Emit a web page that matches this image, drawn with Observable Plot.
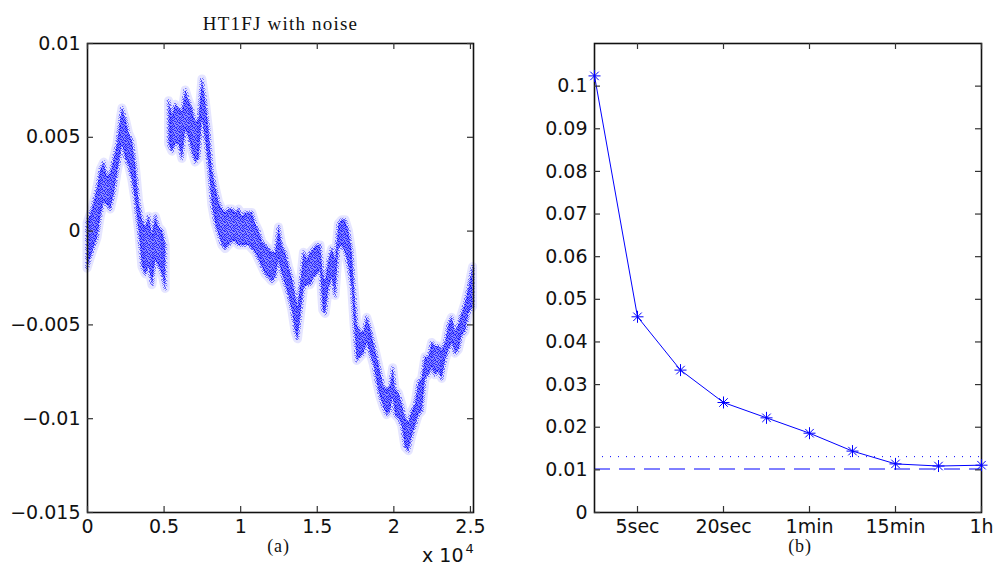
<!DOCTYPE html>
<html><head><meta charset="utf-8">
<script src="https://cdn.jsdelivr.net/npm/d3@7"></script>
<script src="https://cdn.jsdelivr.net/npm/@observablehq/plot@0.6"></script>
<style>
html,body{margin:0;padding:0;background:#fff;}
#wrap{position:relative;width:994px;height:566px;overflow:hidden;background:#fff;}
#left{position:absolute;left:0;top:0;}
#right{position:absolute;left:490px;top:0;}
</style></head><body>
<div id="wrap"><div id="left"></div><div id="right"></div></div>
<script>
// ---------- Panel (a): HT1FJ with noise (band of the noisy cloud)
const bandX = [0,326,652,870,1087,1304,1522,1739,1957,2174,2283,2500,2717,2935,3152,3370,3587,3804,4022,4239,4457,4674,4891,5109,
  5217,
  5326,5543,5761,5978,6196,6413,6630,6848,7065,7283,7500,7717,7935,8152,8370,8587,8804,9022,9239,9457,9674,9891,10109,10326,10543,10761,10978,11196,11413,11630,11848,12065,12283,12500,12717,12935,13152,13370,13587,13739,13913,14130,14348,14565,14783,15000,15217,15391,15543,15761,15978,16196,16413,16630,16848,17065,17283,17435,17609,17826,18043,18261,18478,18696,18913,19130,19348,19565,19783,19957,20109,20326,20543,20761,20978,21196,21413,21630,21848,22065,22283,22500,22717,22935,23152,23370,23587,23804,24022,24239,24457,24674,24891,25174];
const bandTop = [0.0004,0.00115,0.00231,0.00327,0.00365,0.00288,0.00308,0.00385,0.00462,0.00596,0.00654,0.00596,0.00519,0.00481,0.00346,0.00154,0.00058,0.00019,0.00077,-0.00019,0.00077,0.00019,0,-0.00077,
  null,
  0.00692,0.00615,0.00673,0.00654,0.00635,0.0075,0.00692,0.00654,0.00577,0.00596,0.00808,0.00692,0.00538,0.00327,0.00231,0.00154,0.00115,0.00096,0.00115,0.00115,0.00096,0.00115,0.00077,0.00096,0.00096,0.00096,0.00038,0,-0.00058,-0.00077,-0.00096,-0.00115,-0.00115,0.00019,-0.00077,-0.00115,-0.00192,-0.0025,-0.00346,-0.00404,-0.00288,-0.00115,-0.00154,-0.00115,-0.00096,-0.00077,-0.00077,-0.00231,-0.00269,-0.00154,-0.00096,-0.00154,0.00038,0.00058,0.00058,0,-0.00115,-0.00308,-0.005,-0.00538,-0.00538,-0.00462,-0.00519,-0.00596,-0.00673,-0.0075,-0.00827,-0.00846,-0.00827,-0.00731,-0.00846,-0.00865,-0.00923,-0.01,-0.01019,-0.00962,-0.00923,-0.00808,-0.00788,-0.00673,-0.00673,-0.00596,-0.00615,-0.00615,-0.00635,-0.00596,-0.005,-0.00462,-0.00538,-0.005,-0.00442,-0.00385,-0.00308,-0.00192];
const bandBottom = [-0.002,-0.00115,-0.00038,0.00077,0.00154,0.00135,0.00115,0.00192,0.00308,0.00404,0.00462,0.00385,0.00346,0.00269,0.00154,0,-0.00192,-0.00231,-0.00192,-0.00288,-0.00154,-0.00192,-0.00231,-0.00308,
  null,
  0.00462,0.00423,0.00462,0.00462,0.00385,0.00538,0.005,0.00423,0.00365,0.00385,0.00596,0.00481,0.00346,0.00135,0.00038,-0.00019,-0.00077,-0.00096,-0.00077,-0.00058,-0.00058,-0.00077,-0.00077,-0.00077,-0.00077,-0.00096,-0.00115,-0.00154,-0.00192,-0.00231,-0.0025,-0.00269,-0.0025,-0.00154,-0.00231,-0.00288,-0.00346,-0.00423,-0.00538,-0.00577,-0.00462,-0.00308,-0.00288,-0.00288,-0.0025,-0.00231,-0.00212,-0.00423,-0.00442,-0.00308,-0.0025,-0.00346,-0.00096,-0.00077,-0.00115,-0.00192,-0.00308,-0.005,-0.00692,-0.00673,-0.00654,-0.00596,-0.00654,-0.00712,-0.00808,-0.00885,-0.00942,-0.00981,-0.00962,-0.00885,-0.00981,-0.01,-0.01038,-0.01154,-0.01173,-0.01096,-0.01038,-0.00981,-0.00962,-0.00788,-0.00769,-0.00731,-0.00769,-0.0075,-0.00788,-0.00692,-0.00635,-0.00596,-0.00654,-0.00635,-0.00558,-0.00538,-0.00442,-0.00404];
const aTitle = "HT1FJ with noise";
const aXTicks = [0,5000,10000,15000,20000,25000];
const aXTickLabels = ["0","0.5","1","1.5","2","2.5"];
const aYTicks = [-0.015,-0.01,-0.005,0,0.005,0.01];
const aYTickLabels = ["\u22120.015","\u22120.01","\u22120.005","0","0.005","0.01"];

// ---------- Panel (b)
const bIndex = [0,1,2,3,4,5,6,7,8,9];
const bValues = [0.1024,0.0459,0.0334,0.0258,0.0222,0.0186,0.0144,0.0114,0.0109,0.0111];
const bDotted = [0.0131];
const bDashed = [0.0102];
const bXTicks = [1,3,5,7,9];
const bXTickLabels = ["5sec","20sec","1min","15min","1h"];
const bYTicks = [0,0.01,0.02,0.03,0.04,0.05,0.06,0.07,0.08,0.09,0.1];
const bYTickLabels = ["0","0.01","0.02","0.03","0.04","0.05","0.06","0.07","0.08","0.09","0.1"];

const BLUE = "#0000ff";
const STIPPLE_KEY = "#0000fe";
const SANS = "DejaVu Sans";
const SERIF = "Liberation Serif";
const FS = 19;
const TICK = "#333";

// build band rows, split at the null break
const bandRows = bandX.map((x, i) => ({x, top: bandTop[i], bottom: bandBottom[i]}));
const segments = [];
let cur = [];
for (const r of bandRows) {
  if (r.top == null) { if (cur.length) segments.push(cur); cur = []; }
  else cur.push(r);
}
if (cur.length) segments.push(cur);

// Left panel geometry
const aW = 490, aH = 566, aML = 87, aMR = 17, aMT = 43, aMB = 54;
const aFW = aW - aML - aMR, aFH = aH - aMT - aMB;

const bandMarks = segments.flatMap(seg => [
  Plot.areaY(seg, {x: "x", y1: "bottom", y2: "top", fill: "none", stroke: BLUE, strokeOpacity: 0.1, strokeWidth: 9, strokeLinejoin: "round", curve: "linear"}),
  Plot.areaY(seg, {x: "x", y1: "bottom", y2: "top", fill: "none", stroke: STIPPLE_KEY, strokeOpacity: 0.5, strokeWidth: 4, strokeLinejoin: "round", curve: "linear"}),
  Plot.areaY(seg, {x: "x", y1: "bottom", y2: "top", fill: BLUE, fillOpacity: 0.45, curve: "linear"}),
  Plot.areaY(seg, {x: "x", y1: "bottom", y2: "top", fill: STIPPLE_KEY, fillOpacity: 0.7, curve: "linear"})
]);

const left = Plot.plot({
  width: aW, height: aH,
  marginLeft: aML, marginRight: aMR, marginTop: aMT, marginBottom: aMB,
  style: `font-family: '${SANS}'; font-size: ${FS}px; background: white; overflow: visible;`,
  x: {domain: [0, 25200]},
  y: {domain: [-0.015, 0.01]},
  marks: [
    ...bandMarks,
    Plot.frame({stroke: "#111", strokeWidth: 1.6}),
    Plot.tickY(aYTicks, {y: d => d, insetRight: aFW - 6, stroke: TICK, strokeWidth: 1.2}),
    Plot.tickY(aYTicks, {y: d => d, insetLeft: aFW - 6, stroke: TICK, strokeWidth: 1.2}),
    Plot.tickX(aXTicks, {x: d => d, insetTop: aFH - 6, stroke: TICK, strokeWidth: 1.2}),
    Plot.tickX(aXTicks, {x: d => d, insetBottom: aFH - 6, stroke: TICK, strokeWidth: 1.2}),
    Plot.axisY({ticks: aYTicks, tickSize: 0, tickPadding: 7, tickFormat: (d, i) => aYTickLabels[i], label: null, fontSize: FS, fontFamily: SANS, fill: "#111"}),
    Plot.axisX({ticks: aXTicks, tickSize: 0, tickPadding: 7, tickFormat: (d, i) => aXTickLabels[i], label: null, fontSize: FS, fontFamily: SANS, fill: "#111"}),
    Plot.text([aTitle], {text: d => d, frameAnchor: "top", dy: -20, lineAnchor: "middle", fontFamily: SERIF, fontSize: 19, fill: "#111"}),
    Plot.text(["(a)"], {text: d => d, frameAnchor: "bottom", dx: -2, dy: 34, lineAnchor: "middle", fontFamily: SERIF, fontSize: 18, fill: "#111"}),
    Plot.text(["x 10"], {text: d => d, frameAnchor: "bottom-right", dx: -10, dy: 43, textAnchor: "end", lineAnchor: "middle", fontFamily: SANS, fontSize: FS, fill: "#111"}),
    Plot.text(["4"], {text: d => d, frameAnchor: "bottom-right", dx: -8, dy: 36, textAnchor: "start", lineAnchor: "middle", fontFamily: SANS, fontSize: 13, fill: "#111"})
  ]
});

// speckled texture for the noisy cloud (irregular 9x9 pixel tile)
const NS = "http://www.w3.org/2000/svg";
const defs = document.createElementNS(NS, "defs");
const pat = document.createElementNS(NS, "pattern");
pat.setAttribute("id", "stipple");
pat.setAttribute("patternUnits", "userSpaceOnUse");
pat.setAttribute("width", 9);
pat.setAttribute("height", 9);
const tileRows = [
  "x.xx..x.x",
  ".x..xx..x",
  "x..x.x.x.",
  ".xx...x.x",
  "x..xx.x..",
  ".x...x.xx",
  "x.x.x...x",
  "..x..xx..",
  ".x.x...x."
];
const pp = document.createElementNS(NS, "path");
let d = "";
tileRows.forEach((row, py) => [...row].forEach((c, px) => { if (c === "x") d += `M${px},${py}h1v1h-1z`; }));
pp.setAttribute("d", d);
pp.setAttribute("fill", BLUE);
pat.appendChild(pp);
defs.appendChild(pat);
left.insertBefore(defs, left.firstChild);
left.querySelectorAll(`[fill="${STIPPLE_KEY}"]`).forEach(el => el.setAttribute("fill", "url(#stipple)"));
left.querySelectorAll(`[stroke="${STIPPLE_KEY}"]`).forEach(el => el.setAttribute("stroke", "url(#stipple)"));
left.querySelectorAll("text").forEach(t => {
  if (t.textContent === aTitle) t.style.letterSpacing = "1.2px";
  if (t.textContent === "(a)") t.style.letterSpacing = "0.8px";
});
document.getElementById("left").append(left);

// Right panel geometry
const bW = 504, bH = 566, bML = 104, bMR = 13, bMT = 43, bMB = 54;
const bFW = bW - bML - bMR, bFH = bH - bMT - bMB;

const asterisk = {
  draw(ctx, size) {
    const r = Math.sqrt(size / Math.PI);
    const q = r * Math.SQRT1_2;
    ctx.moveTo(-r, 0); ctx.lineTo(r, 0);
    ctx.moveTo(0, -r); ctx.lineTo(0, r);
    ctx.moveTo(-q, -q); ctx.lineTo(q, q);
    ctx.moveTo(-q, q); ctx.lineTo(q, -q);
  }
};

const bRows = bIndex.map((x, i) => ({x, y: bValues[i]}));

const right = Plot.plot({
  width: bW, height: bH,
  marginLeft: bML, marginRight: bMR, marginTop: bMT, marginBottom: bMB,
  style: `font-family: '${SANS}'; font-size: ${FS}px; background: white; overflow: visible;`,
  x: {domain: [0, 9]},
  y: {domain: [0, 0.11]},
  marks: [
    Plot.ruleY(bDotted, {y: d => d, stroke: BLUE, strokeWidth: 1, strokeDasharray: "1,7"}),
    Plot.ruleY(bDashed, {y: d => d, stroke: BLUE, strokeWidth: 1, strokeDasharray: "16,9"}),
    Plot.line(bRows, {x: "x", y: "y", stroke: BLUE, strokeWidth: 1}),
    Plot.frame({stroke: "#111", strokeWidth: 1.6}),
    Plot.tickY(bYTicks, {y: d => d, insetRight: bFW - 6, stroke: TICK, strokeWidth: 1.2}),
    Plot.tickY(bYTicks, {y: d => d, insetLeft: bFW - 6, stroke: TICK, strokeWidth: 1.2}),
    Plot.tickX(bXTicks, {x: d => d, insetTop: bFH - 6, stroke: TICK, strokeWidth: 1.2}),
    Plot.tickX(bXTicks, {x: d => d, insetBottom: bFH - 6, stroke: TICK, strokeWidth: 1.2}),
    Plot.dot(bRows, {x: "x", y: "y", r: 6, symbol: asterisk, stroke: BLUE, fill: "none", strokeWidth: 1}),
    Plot.axisY({ticks: bYTicks, tickSize: 0, tickPadding: 7, tickFormat: (d, i) => bYTickLabels[i], label: null, fontSize: FS, fontFamily: SANS, fill: "#111"}),
    Plot.axisX({ticks: bXTicks, tickSize: 0, tickPadding: 7, tickFormat: (d, i) => bXTickLabels[i], label: null, fontSize: FS, fontFamily: SANS, fill: "#111"}),
    Plot.text(["(b)"], {text: d => d, frameAnchor: "bottom", dx: 12, dy: 34, lineAnchor: "middle", fontFamily: SERIF, fontSize: 18, fill: "#111"})
  ]
});
right.querySelectorAll("text").forEach(t => {
  if (t.textContent === "(b)") t.style.letterSpacing = "0.8px";
});
document.getElementById("right").append(right);
</script>
</body></html>
